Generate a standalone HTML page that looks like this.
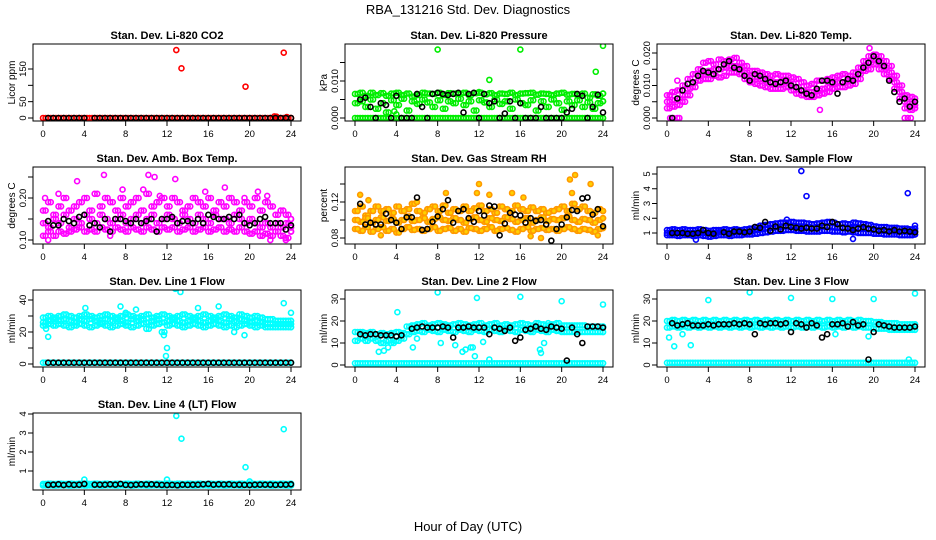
<!DOCTYPE html>
<html><head><meta charset="utf-8"><style>
html,body{margin:0;padding:0;background:#fff;}
svg{display:block;font-family:"Liberation Sans",Arial,sans-serif;}
</style></head><body>
<svg id="chart" width="936" height="540" viewBox="0 0 936 540" xmlns="http://www.w3.org/2000/svg">
<rect width="936" height="540" fill="#fff"/>
<text x="468" y="14" text-anchor="middle" font-size="13">RBA_131216  Std. Dev. Diagnostics</text>
<text x="468" y="531" text-anchor="middle" font-size="13">Hour of Day (UTC)</text>
</svg>
<script>
const HH=[0,0.5,1,1.5,2,2.5,3,3.5,4,4.5,5,5.5,6,6.5,7,7.5,8,8.5,9,9.5,10,10.5,11,11.5,12,12.5,13,13.5,14,14.5,15,15.5,16,16.5,17,17.5,18,18.5,19,19.5,20,20.5,21,21.5,22,22.5,23,23.5,24];
const HQ=[0.25,0.75,1.25,1.75,2.25,2.75,3.25,3.75,4.25,4.75,5.25,5.75,6.25,6.75,7.25,7.75,8.25,8.75,9.25,9.75,10.25,10.75,11.25,11.75,12.25,12.75,13.25,13.75,14.25,14.75,15.25,15.75,16.25,16.75,17.25,17.75,18.25,18.75,19.25,19.75,20.25,20.75,21.25,21.75,22.25,22.75,23.25,23.75,24];
const xTicks=[0,4,8,12,16,20,24];
// P1 CO2
const co2Base=[0,0,0,0,0,0,0,0,0,0,0,0,0,0,0,0,0,0,0,0,0,0,0,0,0,0,0,0,0,0,0,0,0,0,0,0,0,0,0,0,0,0,0,0,0,0,0,0,0];
const co2OutX=[12.9,13.4,19.6,23.3,22.4,22.6,23.6];
const co2OutY=[208,152,96,200,5,4,3];
const co2Blk=[null,0,0,0,0,0,0,0,0,null,0,0,0,0,0,0,0,0,0,0,0,0,0,0,0,0,0,0,0,0,0,0,0,0,0,0,0,0,0,0,0,0,0,0,0,0,0,0,0];
// P2 pressure
const prBase=[0,0,0,0,0,0,0,0,0,0,0,0,0,0,0,0,0,0,0,0,0,0,0,0,0,0,0,0,0,0,0,0,0,0,0,0,0,0,0,0,0,0,0,0,0,0,0,0,0];
const prHi=[0.0065,0.0068,0.006,0.0068,0.0062,0.0067,0.006,0.0066,0.0068,0.0062,0.0066,0.0058,0.0062,0.0068,0.0066,0.0065,0.0068,0.0062,0.0067,0.0066,0.0065,0.0068,0.0062,0.0067,0.0068,0.0064,0.0067,0.0062,0.0066,0.0065,0.0068,0.0062,0.0066,0.0067,0.0068,0.0063,0.0066,0.0065,0.0062,0.0066,0.0068,0.0063,0.0065,0.0062,0.0066,0.0055,0.0064,0.006,0.0066];
const prMid=[0.004,0.0045,0.003,0.005,0.0025,0.004,0.0015,0.0048,0.0035,0.0052,0.002,0.0045,0.0038,0.005,0.0042,0.003,0.0048,0.0025,0.0045,0.004,0.0052,0.0035,0.0045,0.002,0.0048,0.0042,0.003,0.005,0.0038,0.0045,0.0025,0.005,0.004,0.0035,0.0048,0.002,0.0045,0.003,0.005,0.004,0.0022,0.0045,0.0035,0.0048,0.003,0.0042,0.0025,0.004,0.0045];
const prOutX=[8,16,24,23.3,13,3.8,4,12];
const prOutY=[0.0185,0.0185,0.0195,0.0125,0.0103,0.0018,0.001,0.007];
const prBlk=[null,0.005,0.0055,0.003,0,0.004,0.0035,0,0.006,0,0,0,0.0065,0.003,0,0.0065,0.0068,0.0065,0.0062,0.0065,0.0068,0.0015,0.0065,0.0068,0,0.0065,0.004,0.0045,0,0.0012,0.0045,0,0.004,0,0,0,0.003,0,0,0,0,0.0015,0.0025,0.0065,0.006,0,0.003,0.0063,0.0015];
// P3 temp
const tmpHi=[0.007,0.008,0.0085,0.01,0.012,0.0135,0.015,0.017,0.0175,0.0165,0.018,0.0175,0.018,0.0185,0.017,0.016,0.0145,0.0145,0.014,0.0135,0.013,0.0135,0.013,0.013,0.0125,0.012,0.011,0.01,0.0105,0.0115,0.0115,0.012,0.0125,0.013,0.0135,0.013,0.014,0.0155,0.0175,0.019,0.0195,0.019,0.0175,0.016,0.013,0.01,0.007,0.0065,0.006];
const tmpMid=[0.005,0.0055,0.006,0.007,0.009,0.011,0.013,0.014,0.0145,0.015,0.015,0.0155,0.016,0.016,0.0155,0.014,0.0125,0.0125,0.012,0.0115,0.011,0.011,0.011,0.011,0.0105,0.0095,0.0085,0.008,0.008,0.0085,0.009,0.0095,0.0105,0.011,0.011,0.0115,0.012,0.0135,0.016,0.017,0.018,0.017,0.0155,0.014,0.011,0.008,0.005,0.0045,0.004];
const tmpLo=[0.003,0.0035,0.004,0.005,0.007,0.0095,0.0115,0.012,0.012,0.013,0.0125,0.013,0.014,0.014,0.0135,0.012,0.011,0.0105,0.01,0.0095,0.009,0.009,0.009,0.0095,0.0085,0.0075,0.007,0.0065,0.0065,0.007,0.0075,0.008,0.009,0.0095,0.0095,0.01,0.0105,0.012,0.0145,0.015,0.0165,0.015,0.0135,0.012,0.009,0.006,0.003,0.0025,0.003];
const tmpOutX=[0.3,0.6,1,1.2,23,23.3,23.6,19.6,14.8,1,0.3];
const tmpOutY=[0,0,0,0,0,0,0,0.0215,0.0025,0.0115,0.007];
const tmpBlk=[null,0,0.006,0.0085,0.0105,0.011,0.013,0.0145,0.014,0.0135,0.015,0.0165,0.0175,0.0155,0.015,0.013,0.0115,0.0135,0.013,0.012,0.011,0.0105,0.011,0.0115,0.01,0.0095,0.0085,0.0075,0.007,0.009,0.0115,0.0115,0.011,0.0075,0.011,0.012,0.0115,0.0135,0.0155,0.017,0.019,0.0175,0.016,0.0115,0.008,0.005,0.006,0.0035,0.005];
// P4 amb box temp
const amHi=[0.17,0.19,0.16,0.18,0.2,0.17,0.18,0.19,0.2,0.17,0.21,0.18,0.2,0.19,0.17,0.2,0.18,0.19,0.2,0.17,0.21,0.18,0.19,0.2,0.18,0.2,0.19,0.17,0.18,0.2,0.19,0.18,0.2,0.17,0.19,0.18,0.2,0.19,0.17,0.19,0.18,0.2,0.17,0.19,0.18,0.16,0.17,0.16,0.15];
const amMid=[0.14,0.13,0.15,0.14,0.16,0.13,0.15,0.14,0.16,0.15,0.14,0.16,0.15,0.14,0.15,0.16,0.14,0.15,0.16,0.14,0.15,0.16,0.14,0.15,0.16,0.15,0.14,0.16,0.15,0.14,0.16,0.15,0.14,0.16,0.15,0.15,0.14,0.16,0.15,0.14,0.15,0.14,0.13,0.14,0.13,0.14,0.13,0.14,0.13];
const amLo=[0.11,0.12,0.11,0.12,0.115,0.12,0.125,0.13,0.12,0.125,0.12,0.13,0.125,0.12,0.13,0.125,0.12,0.13,0.125,0.12,0.13,0.125,0.12,0.13,0.125,0.13,0.12,0.125,0.13,0.12,0.125,0.13,0.12,0.125,0.13,0.12,0.125,0.12,0.13,0.12,0.115,0.12,0.11,0.115,0.11,0.12,0.11,0.105,0.12];
const amOutX=[3.3,5.9,10.2,10.8,17.3,17.6,12.8,9.7,20.8,0.5,23.5,22,0.2,1.5,7.7,11.3,15.7,19.5,21.7,6.5];
const amOutY=[0.24,0.255,0.255,0.25,0.29,0.225,0.245,0.22,0.215,0.1,0.1,0.1,0.2,0.21,0.22,0.205,0.215,0.2,0.205,0.11];
const amBlk=[null,0.145,0.135,0.135,0.15,0.145,0.14,0.155,0.16,0.135,0.14,0.13,0.15,0.12,0.15,0.15,0.145,0.14,0.15,0.14,0.145,0.15,0.12,0.15,0.15,0.155,0.14,0.145,0.145,0.14,0.15,0.14,0.16,0.155,0.15,0.15,0.155,0.15,0.16,0.14,0.135,0.14,0.15,0.155,0.14,0.14,0.14,0.125,0.135];
// P5 RH
const rhHi=[0.11,0.115,0.105,0.11,0.115,0.11,0.112,0.108,0.115,0.11,0.112,0.118,0.11,0.108,0.112,0.115,0.11,0.116,0.108,0.112,0.11,0.115,0.11,0.113,0.116,0.11,0.112,0.108,0.115,0.112,0.11,0.116,0.112,0.11,0.114,0.11,0.112,0.108,0.11,0.112,0.115,0.11,0.118,0.112,0.115,0.11,0.108,0.112,0.11];
const rhMid=[0.1,0.098,0.102,0.097,0.1,0.103,0.099,0.101,0.097,0.1,0.104,0.099,0.1,0.102,0.098,0.101,0.103,0.1,0.099,0.102,0.1,0.097,0.101,0.103,0.1,0.098,0.102,0.1,0.099,0.103,0.101,0.098,0.1,0.102,0.097,0.1,0.103,0.099,0.101,0.1,0.102,0.104,0.1,0.098,0.101,0.1,0.097,0.1,0.102];
const rhLo=[0.09,0.088,0.092,0.087,0.09,0.092,0.088,0.09,0.086,0.09,0.092,0.089,0.09,0.088,0.09,0.092,0.088,0.09,0.091,0.088,0.09,0.087,0.091,0.09,0.088,0.09,0.092,0.088,0.09,0.091,0.089,0.087,0.09,0.092,0.088,0.09,0.091,0.089,0.09,0.088,0.09,0.092,0.09,0.088,0.09,0.089,0.087,0.09,0.091];
const rhOutX=[0.5,1.3,12,11.8,20.8,21.3,22.8,21,15.2,8.8,13,17,18,23.5,2.5,6,16.3];
const rhOutY=[0.128,0.122,0.14,0.13,0.145,0.15,0.14,0.13,0.13,0.13,0.128,0.082,0.08,0.083,0.083,0.12,0.125];
const rhBlk=[null,0.118,0.095,0.097,0.095,0.095,0.107,0.1,0.097,0.09,0.103,0.103,0.125,0.089,0.09,0.098,0.104,0.112,0.122,0.097,0.11,0.112,0.102,0.098,0.11,0.105,0.116,0.115,0.083,0.096,0.108,0.106,0.105,0.097,0.102,0.099,0.1,0.095,0.077,0.09,0.095,0.103,0.111,0.11,0.124,0.125,0.106,0.112,0.093];
// P6 sample flow
const sfHi=[1.2,1.25,1.2,1.25,1.2,1.2,1.25,1.2,1.15,1.2,1.2,1.25,1.2,1.25,1.2,1.25,1.3,1.4,1.5,1.55,1.6,1.65,1.7,1.7,1.75,1.7,1.7,1.65,1.6,1.65,1.7,1.75,1.7,1.6,1.65,1.6,1.7,1.65,1.6,1.55,1.45,1.4,1.4,1.35,1.35,1.3,1.3,1.25,1.3];
const sfMid=[1.0,1.05,1.0,1.05,1.0,1.0,1.05,1.0,0.95,1.0,1.05,1.05,1.0,1.05,1.05,1.05,1.1,1.2,1.25,1.3,1.35,1.4,1.45,1.45,1.5,1.45,1.45,1.4,1.35,1.4,1.45,1.45,1.4,1.35,1.35,1.35,1.35,1.3,1.3,1.25,1.2,1.2,1.15,1.15,1.1,1.1,1.1,1.05,1.1];
const sfLo=[0.85,0.85,0.8,0.85,0.85,0.8,0.85,0.8,0.75,0.8,0.85,0.85,0.8,0.85,0.85,0.9,0.9,0.95,1.0,1.05,1.1,1.15,1.15,1.2,1.2,1.15,1.15,1.1,1.1,1.1,1.15,1.15,1.1,1.1,1.05,1.1,1.05,1.0,1.0,1.0,0.95,0.95,0.9,0.9,0.9,0.85,0.85,0.85,0.9];
const sfOutX=[13,13.5,23.3,24,11.6,18,2.8];
const sfOutY=[5.2,3.5,3.7,1.5,1.9,0.6,0.55];
const sfBlk=[null,1.0,1.0,1.0,0.95,0.95,1.0,1.2,1.0,0.95,null,1.05,0.95,1.1,1.1,1.05,1.1,1.4,1.35,1.75,1.15,1.45,1.25,1.5,1.4,1.35,1.3,1.35,1.3,1.3,1.5,1.4,1.75,1.6,1.35,1.3,1.2,1.3,1.4,1.3,1.25,1.15,1.2,1.1,1.2,1.1,1.15,1.1,1.05];
// P7 line 1
const l1Hi=[29,30,29,30,31,30,29,30,31,30,29,30,31,30,29,30,31,30,29,30,31,29,30,31,30,29,30,31,30,29,30,31,30,29,30,31,30,29,31,30,29,30,29,28,28,27,27,27,27];
const l1Mid=[26,27,28,27,28,27,26,28,27,28,27,26,28,27,28,27,26,28,27,28,26,27,28,26,27,28,27,26,27,28,27,26,27,28,27,26,28,27,28,27,26,27,26,25,25,25,25,25,25];
const l1Lo=[24,25,24,25,24,23,24,25,24,23,24,25,24,23,24,25,24,23,24,25,22,24,25,20,24,25,24,23,24,25,24,23,24,25,24,23,24,23,24,25,24,23,24,23,23,23,23,23,23];
const l1Base=[0.8,0.8,0.8,0.8,0.8,0.8,0.8,0.8,0.8,0.8,0.8,0.8,0.8,0.8,0.8,0.8,0.8,0.8,0.8,0.8,0.8,0.8,0.8,0.8,0.8,0.8,0.8,0.8,0.8,0.8,0.8,0.8,0.8,0.8,0.8,0.8,0.8,0.8,0.8,0.8,0.8,0.8,0.8,0.8,0.8,0.8,0.8,0.8,0.8];
const l1OutX=[0.5,0.3,4.1,7.5,8,12.8,13.3,11.7,11.9,12,23.3,24,19.5,18.5,15,17,9];
const l1OutY=[17,22,35,36,32,47,45,18,5,10,38,32,18,20,35,36,34];
const l1Blk=[null,0.8,0.8,0.8,0.8,0.8,0.8,0.8,0.8,0.8,0.8,0.8,0.8,0.8,0.8,0.8,0.8,0.8,0.8,0.8,0.8,0.8,0.8,0.8,0.8,0.8,0.8,0.8,0.8,0.8,0.8,0.8,0.8,0.8,0.8,0.8,0.8,0.8,0.8,0.8,0.8,0.8,0.8,0.8,0.8,0.8,0.8,0.8,0.8];
// P8 line 2
const l2Hi=[15,15,14.5,15,14,14.5,14,14.5,15,14.5,17.5,18,18.5,19,18,18.5,19,18.5,18,18.5,19,18.5,18,18.5,19,18,18.5,19,18,18.5,18,18.5,19,18.5,18,19,18.5,18,18.5,19,18,18,18,18,18,17.5,17.5,17.5,17.5];
const l2Lo=[11,12,11,12,11,10,11,10,11,12,14,15,15.5,15,16,15.5,15,16,15.5,15,16,15.5,15,16,15.5,15,16,15.5,15,16,15.5,15,16,15.5,15,16,15.5,15,16,15.5,15,15,15,15,15,15,15,15,15];
const l2Base=[0.8,0.8,0.8,0.8,0.8,0.8,0.8,0.8,0.8,0.8,0.8,0.8,0.8,0.8,0.8,0.8,0.8,0.8,0.8,0.8,0.8,0.8,0.8,0.8,0.8,0.8,0.8,0.8,0.8,0.8,0.8,0.8,0.8,0.8,0.8,0.8,0.8,0.8,0.8,0.8,0.8,0.8,0.8,0.8,0.8,0.8,0.8,0.8,0.8];
const l2OutX=[2.3,2.8,3.2,3.8,4.1,5.6,6,8,8.3,9.7,10.4,10.7,11.2,11.4,11.6,11.8,12.4,13,16,17.9,18,18.3,18.7,20,24];
const l2OutY=[6,6.5,8,11,24,8,12,33,10,9,6,7,8,8,4,30.5,10.5,2.5,31,7,5.5,10,19,29,27.5];
const l2Blk=[null,14,13.5,14,14,13.5,13.5,13.5,13,13.5,null,16.5,17,17.5,17,17,17,17.5,17,12.5,17,17,17.5,17,17,17,14,17,16.5,15.5,17,11,12.5,16,16.5,17.5,16.5,16,17.5,17,16.5,2,17,14,10,17.5,17.5,17.5,17];
// P9 line 3
const l3Hi=[20,20.5,20,20.5,20,20.5,20,20.5,20,20.5,20,20.5,20,20.5,20,20.5,20,20.5,20,20.5,20,20.5,20,20.5,20,20.5,20,20.5,20,20.5,20,20.5,20,20.5,20,20.5,20,20.5,20,20,19.5,19.5,19,19,19,18.5,18.5,18.5,18.5];
const l3Lo=[17,17.5,17,17.5,17,17.5,17,17.5,17,17.5,17,17.5,17,17.5,17,17.5,17,17.5,17,17.5,17,17.5,17,17.5,17,17.5,17,17.5,17,17.5,17,17.5,17,17.5,17,17.5,17,17.5,17,17,16.5,16.5,16.5,16,16,16,16,16,16];
const l3Base=[1,1,1,1,1,1,1,1,1,1,1,1,1,1,1,1,1,1,1,1,1,1,1,1,1,1,1,1,1,1,1,1,1,1,1,1,1,1,1,1,1,1,1,1,1,1,1,1,1];
const l3OutX=[0.2,0.7,1.5,2.3,4,8,12,16,16.3,20,24,19.5,23.4];
const l3OutY=[12.5,8.5,14,9,29.5,33,30.5,30,14,30,32.5,13,2.5];
const l3Blk=[null,19,18,18.5,19,18,18,18,18.5,18,18.5,18.5,18.5,19,18.5,19,18.5,14,19,18.5,19,19,18.5,19,15,19,18.5,17,19,18,12.5,14,18.5,18.5,19,17.5,19.5,18,18.5,2.5,15,18.5,18,17.5,17,17,17,17,17.5];
// P10 line 4
const l4Hi=[0.32,0.33,0.32,0.33,0.32,0.33,0.32,0.33,0.34,0.32,0.33,0.32,0.33,0.32,0.33,0.32,0.33,0.32,0.33,0.32,0.33,0.32,0.33,0.32,0.34,0.32,0.33,0.32,0.33,0.32,0.33,0.32,0.33,0.32,0.33,0.32,0.33,0.32,0.33,0.32,0.33,0.32,0.33,0.32,0.33,0.32,0.33,0.32,0.33];
const l4Lo=[0.24,0.24,0.23,0.24,0.24,0.23,0.24,0.24,0.23,0.24,0.24,0.23,0.24,0.24,0.23,0.24,0.24,0.23,0.24,0.24,0.23,0.24,0.24,0.23,0.24,0.24,0.23,0.24,0.24,0.23,0.24,0.24,0.23,0.24,0.24,0.23,0.24,0.24,0.23,0.24,0.24,0.23,0.24,0.24,0.23,0.24,0.24,0.23,0.24];
const l4OutX=[12.9,13.4,23.3,19.6,4,12,20];
const l4OutY=[3.9,2.7,3.2,1.2,0.55,0.55,0.45];
const l4Blk=[null,0.27,0.28,0.3,0.26,0.3,0.27,0.28,0.32,null,0.28,0.28,0.28,0.3,0.28,0.32,0.27,0.26,0.28,0.3,0.29,0.3,0.28,0.27,0.26,0.27,0.25,0.28,0.27,0.28,0.28,0.3,0.32,0.28,0.3,0.29,0.3,0.27,0.28,0.27,0.26,0.28,0.28,0.28,0.28,0.27,0.28,0.28,0.3];

const svg=document.getElementById('chart');
const NS='http://www.w3.org/2000/svg';
function mk(tag,attrs,parent){const e=document.createElementNS(NS,tag);for(const k in attrs)e.setAttribute(k,attrs[k]);parent.appendChild(e);return e;}

function panel(p){
  const L=33+312*p.col, T=44+123*p.row, W=268, H=77;
  const g=mk('g',{},svg);
  
  
  const xs=h=>L+10+h*10.333;
  const ys=v=>T+p.py0+(v-p.v0)*(p.py1-p.py0)/(p.v1-p.v0);
  const t=mk('text',{x:L+W/2,y:T-5,'text-anchor':'middle','font-size':'11','font-weight':'bold'},g);
  t.textContent=p.title;
  
  
  const yt=mk('text',{transform:`translate(${L-18},${T+H/2}) rotate(-90)`,'text-anchor':'middle','font-size':'10'},g);
  yt.textContent=p.ylab;
  
  
  xTicks.forEach(h=>{
    mk('line',{x1:xs(h),x2:xs(h),y1:T+H,y2:T+H+5,stroke:'#000'},g);
    const tx=mk('text',{x:xs(h),y:T+H+16,'text-anchor':'middle','font-size':'9.5'},g);
    tx.textContent=h;
    
    
  });
  p.yticks.forEach((v,i)=>{
    mk('line',{x1:L-5,x2:L,y1:ys(v),y2:ys(v),stroke:'#000'},g);
    if(p.ylabels[i]!==''){
      const ty=mk('text',{transform:`translate(${L-7},${ys(v)}) rotate(-90)`,'text-anchor':'middle','font-size':'9.5'},g);
      ty.textContent=p.ylabels[i];
      
      
    }
  });
  const clipId='c'+p.row+p.col;
  const cp=mk('clipPath',{id:clipId},g);mk('rect',{x:L,y:T,width:W,height:H},cp);
  const pts=mk('g',{'clip-path':`url(#${clipId})`},g);
  function plot(xarr,yarr,s){
    yarr.forEach((v,i)=>{
      if(v===null||v===undefined||xarr[i]===undefined)return;
      const c=mk('circle',{cx:xs(xarr[i]),cy:ys(v),r:2.5,fill:s.fill||'none',stroke:s.c,'stroke-width':1.6},pts);
      
      
    });
  }
  p.series.forEach(s=>{
    plot(s.x||HH,s.y,s);
    if(s.dense) plot(HQ,s.y,s);
  });
  const box=mk('rect',{x:L,y:T,width:W,height:H,fill:'none',stroke:'#000','stroke-width':1},g);
  
  
}
const K='#000',R='#ff0000',G='#00ee00',M='#ff00ff',O='#ff9900',B='#0000ff',C='#00ffff';
panel({name:'panel-co2',row:0,col:0,title:'Stan. Dev. Li-820 CO2',ylab:'Licor ppm',v0:0,py0:74,v1:150,py1:25,yticks:[0,50,100,150],ylabels:['0','50','','150'],
 series:[{y:co2Base,c:R,dense:true},{x:co2OutX,y:co2OutY,c:R},{y:co2Blk,c:K}]});
panel({name:'panel-pressure',row:0,col:1,title:'Stan. Dev. Li-820 Pressure',ylab:'kPa',v0:0,py0:74,v1:0.01,py1:37,yticks:[0,0.005,0.01,0.015],ylabels:['0.000','','0.010',''],
 series:[{y:prBase,c:G,dense:true},{y:prHi,c:G,dense:true},{y:prMid,c:G,dense:true},{x:prOutX,y:prOutY,c:G},{y:prBlk,c:K}]});
panel({name:'panel-li820-temp',row:0,col:2,title:'Stan. Dev. Li-820 Temp.',ylab:'degrees C',v0:0,py0:74,v1:0.02,py1:9,yticks:[0,0.005,0.01,0.015,0.02],ylabels:['0.000','','0.010','','0.020'],
 series:[{y:tmpHi,c:M,dense:true},{y:tmpMid,c:M,dense:true},{y:tmpLo,c:M,dense:true},{x:tmpOutX,y:tmpOutY,c:M},{y:tmpBlk,c:K}]});
panel({name:'panel-amb-box-temp',row:1,col:0,title:'Stan. Dev. Amb. Box Temp.',ylab:'degrees C',v0:0.1,py0:73,v1:0.2,py1:31,yticks:[0.1,0.15,0.2,0.25],ylabels:['0.10','','0.20',''],
 series:[{y:amHi,c:M,dense:true},{y:amMid,c:M,dense:true},{y:amLo,c:M,dense:true},{x:amOutX,y:amOutY,c:M},{y:amBlk,c:K}]});
panel({name:'panel-gas-rh',row:1,col:1,title:'Stan. Dev. Gas Stream RH',ylab:'percent',v0:0.08,py0:71,v1:0.12,py1:35,yticks:[0.08,0.1,0.12,0.14],ylabels:['0.08','','0.12',''],
 series:[{y:rhHi,c:O,fill:'#ffd000',dense:true},{y:rhMid,c:O,fill:'#ffd000',dense:true},{y:rhLo,c:O,fill:'#ffd000',dense:true},{x:rhOutX,y:rhOutY,c:O,fill:'#ffd000'},{y:rhBlk,c:K}]});
panel({name:'panel-sample-flow',row:1,col:2,title:'Stan. Dev. Sample Flow',ylab:'ml/min',v0:1,py0:66,v1:5,py1:7,yticks:[1,2,3,4,5],ylabels:['1','2','3','4','5'],
 series:[{y:sfHi,c:B,dense:true},{y:sfMid,c:B,dense:true},{y:sfLo,c:B,dense:true},{x:sfOutX,y:sfOutY,c:B},{y:sfBlk,c:K}]});
panel({name:'panel-line1-flow',row:2,col:0,title:'Stan. Dev. Line 1 Flow',ylab:'ml/min',v0:0,py0:74,v1:40,py1:10,yticks:[0,10,20,30,40],ylabels:['0','','20','','40'],
 series:[{y:l1Hi,c:C,dense:true},{y:l1Mid,c:C,dense:true},{y:l1Lo,c:C,dense:true},{y:l1Base,c:C,dense:true},{x:l1OutX,y:l1OutY,c:C},{y:l1Blk,c:K}]});
panel({name:'panel-line2-flow',row:2,col:1,title:'Stan. Dev. Line 2 Flow',ylab:'ml/min',v0:0,py0:75,v1:30,py1:9,yticks:[0,10,20,30],ylabels:['0','10','20','30'],
 series:[{y:l2Hi,c:C,dense:true},{y:l2Lo,c:C,dense:true},{y:l2Base,c:C,dense:true},{x:l2OutX,y:l2OutY,c:C},{y:l2Blk,c:K}]});
panel({name:'panel-line3-flow',row:2,col:2,title:'Stan. Dev. Line 3 Flow',ylab:'ml/min',v0:0,py0:75,v1:30,py1:9,yticks:[0,10,20,30],ylabels:['0','10','20','30'],
 series:[{y:l3Hi,c:C,dense:true},{y:l3Lo,c:C,dense:true},{y:l3Base,c:C,dense:true},{x:l3OutX,y:l3OutY,c:C},{y:l3Blk,c:K}]});
panel({name:'panel-line4-flow',row:3,col:0,title:'Stan. Dev. Line 4 (LT) Flow',ylab:'ml/min',v0:1,py0:58,v1:4,py1:1,yticks:[1,2,3,4],ylabels:['1','2','3','4'],
 series:[{y:l4Hi,c:C,dense:true},{y:l4Lo,c:C,dense:true},{x:l4OutX,y:l4OutY,c:C},{y:l4Blk,c:K}]});
</script>
</body></html>
